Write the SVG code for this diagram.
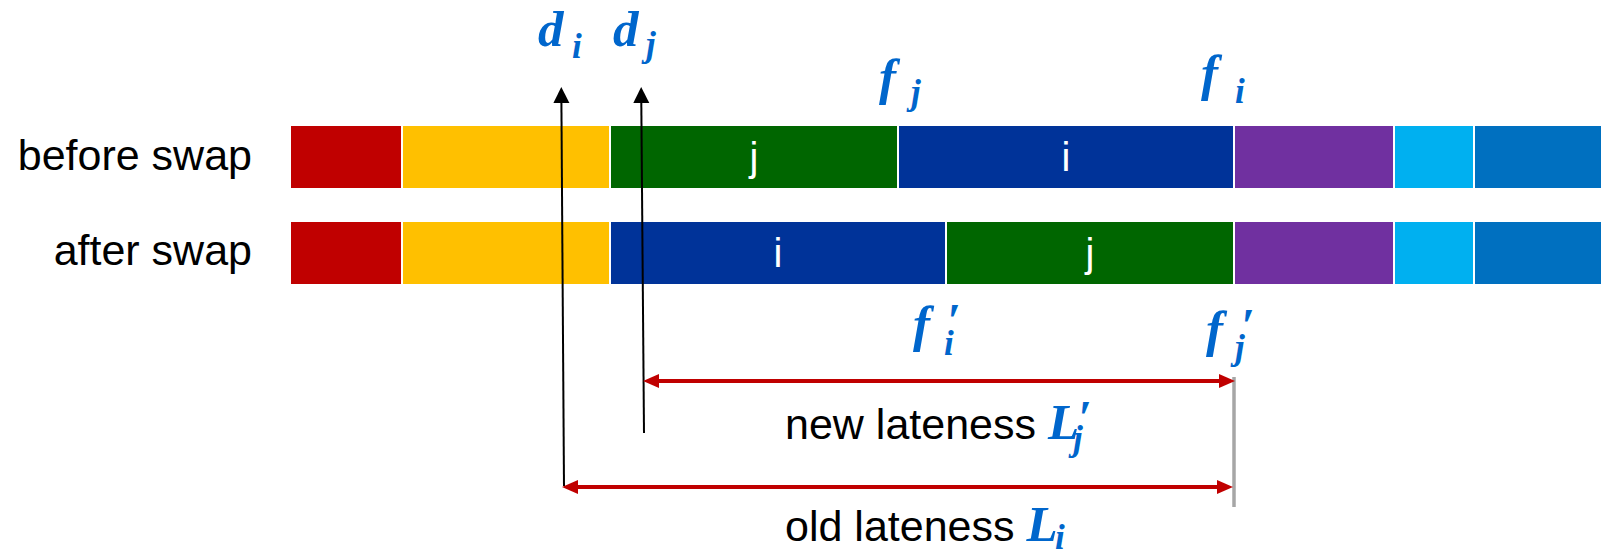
<svg xmlns="http://www.w3.org/2000/svg" width="1601" height="554" viewBox="0 0 1601 554">
<style>
.lbl{font-family:"Liberation Sans",Arial,sans-serif;font-size:43px;fill:#000}
.job{font-family:"Liberation Sans",Arial,sans-serif;font-size:40px;fill:#fff;text-anchor:middle}
.m{font-family:"Liberation Serif","Times New Roman",serif;font-weight:bold;font-style:italic;fill:#0066CC;font-size:51px}
.s{font-size:35px}
.p{font-size:48px}
.red{fill:#C00000}.yel{fill:#FFC000}.grn{fill:#006600}.blu{fill:#003399}.pur{fill:#7030A0}.cya{fill:#00B0F0}.bl2{fill:#0070C0}
.blk{stroke:#000;stroke-width:2;fill:none}
.lat{stroke:#C00000;stroke-width:4;fill:none}
</style>
<defs>
<marker id="ra" markerUnits="userSpaceOnUse" markerWidth="18" markerHeight="18" viewBox="-2 -9 18 18" refX="0" refY="0" orient="auto-start-reverse" overflow="visible">
<path d="M-1,-7 L15,0 L-1,7 z" fill="#C00000"/>
</marker>
<marker id="ba" markerUnits="userSpaceOnUse" markerWidth="18" markerHeight="18" viewBox="-2 -9 18 18" refX="0" refY="0" orient="auto" overflow="visible">
<path d="M-1,-8 L15,0 L-1,8 z" fill="#000"/>
</marker>
</defs>
<rect width="1601" height="554" fill="#fff"/>

<g id="row-labels">
<text class="lbl" x="252" y="170" text-anchor="end">before swap</text>
<text class="lbl" x="252" y="265" text-anchor="end">after swap</text>
</g>

<g id="before-swap">
<g id="b-red"><rect class="red" x="291" y="126" width="110" height="62"/></g>
<g id="b-yellow"><rect class="yel" x="403" y="126" width="206" height="62"/></g>
<g id="b-job-j"><rect class="grn" x="611" y="126" width="286" height="62"/><text class="job" x="754" y="171">j</text></g>
<g id="b-job-i"><rect class="blu" x="899" y="126" width="334" height="62"/><text class="job" x="1066" y="171">i</text></g>
<g id="b-purple"><rect class="pur" x="1235" y="126" width="158" height="62"/></g>
<g id="b-cyan"><rect class="cya" x="1395" y="126" width="78" height="62"/></g>
<g id="b-blue"><rect class="bl2" x="1475" y="126" width="126" height="62"/></g>
</g>

<g id="after-swap">
<g id="a-red"><rect class="red" x="291" y="222" width="110" height="62"/></g>
<g id="a-yellow"><rect class="yel" x="403" y="222" width="206" height="62"/></g>
<g id="a-job-i"><rect class="blu" x="611" y="222" width="334" height="62"/><text class="job" x="778" y="267">i</text></g>
<g id="a-job-j"><rect class="grn" x="947" y="222" width="286" height="62"/><text class="job" x="1090" y="267">j</text></g>
<g id="a-purple"><rect class="pur" x="1235" y="222" width="158" height="62"/></g>
<g id="a-cyan"><rect class="cya" x="1395" y="222" width="78" height="62"/></g>
<g id="a-blue"><rect class="bl2" x="1475" y="222" width="126" height="62"/></g>
</g>

<g id="math-labels">
<g id="d-i"><text class="m" x="538" y="46">d</text><text class="m s" x="572" y="58">i</text></g>
<g id="d-j"><text class="m" x="613" y="46">d</text><text class="m s" x="646" y="56">j</text></g>
<g id="f-j"><text class="m" x="879" y="94">f</text><text class="m s" x="911" y="104">j</text></g>
<g id="f-i"><text class="m" x="1201" y="90">f</text><text class="m s" x="1235" y="103">i</text></g>
<g id="f-i-prime"><text class="m" x="913" y="341">f</text><text class="m p" x="947" y="337">′</text><text class="m s" x="944" y="355">i</text></g>
<g id="f-j-prime"><text class="m" x="1206" y="346">f</text><text class="m p" x="1241" y="342">′</text><text class="m s" x="1235" y="359">j</text></g>
</g>

<g id="lateness-labels">
<text class="lbl" x="785" y="439">new lateness <tspan class="m">L</tspan></text>
<text class="m p" x="1078" y="434">′</text><text class="m s" x="1073" y="450">j</text>
<text class="lbl" x="785" y="541">old lateness <tspan class="m">L</tspan></text>
<text class="m s" x="1055" y="549">i</text>
</g>

<g id="connectors">
<line x1="1234" y1="377" x2="1234" y2="507" stroke="#A6A6A6" stroke-width="3.5"/>
<line class="blk" x1="564" y1="486" x2="561.4" y2="102" marker-end="url(#ba)"/>
<line class="blk" x1="644" y1="433" x2="641.3" y2="102" marker-end="url(#ba)"/>
<line class="lat" x1="658" y1="381" x2="1220" y2="381" marker-start="url(#ra)" marker-end="url(#ra)"/>
<line class="lat" x1="577" y1="487" x2="1218" y2="487" marker-start="url(#ra)" marker-end="url(#ra)"/>
</g>
</svg>
